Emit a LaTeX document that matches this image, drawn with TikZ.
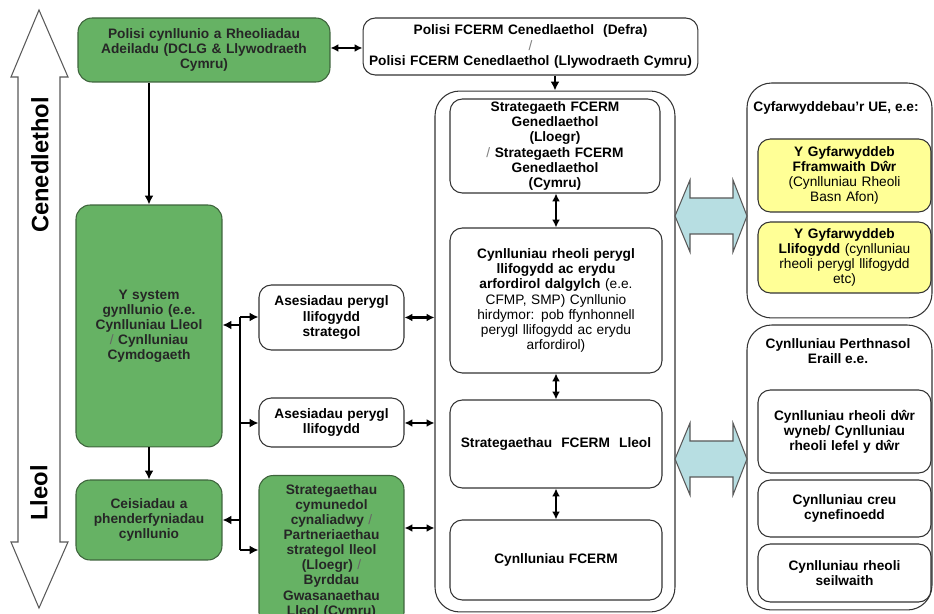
\documentclass[tikz,border=0pt]{standalone}
\usepackage{fontspec}
\setmainfont{Liberation Sans}
\usepackage{xcolor}
\usetikzlibrary{arrows.meta, positioning}

\definecolor{plangreen}{RGB}{102,178,100}
\definecolor{planedge}{RGB}{62,100,60}
\definecolor{euyellow}{RGB}{255,255,150}
\definecolor{linkcyan}{RGB}{183,222,226}

\tikzset{
  txt/.style={font=\fontsize{7.8}{8.6}\selectfont\bfseries, align=center, inner sep=1pt},
  greenbox/.style={txt, draw=planedge, fill=plangreen, text=black!85, rounded corners=8pt, line width=0.6pt},
  whitebox/.style={txt, draw=black!80, fill=white, rounded corners=7pt, line width=0.6pt},
  yellowbox/.style={txt, draw=black!80, fill=euyellow, rounded corners=7pt, line width=0.6pt},
  holder/.style={draw=black!80, rounded corners=14pt, line width=0.6pt},
  flow/.style={-{Latex[length=5pt,width=5pt]}, line width=1.3pt},
  link/.style={{Latex[length=4.5pt,width=4.5pt]}-{Latex[length=4.5pt,width=4.5pt]}, line width=1.3pt},
  levelword/.style={rotate=90, font=\fontsize{13.5}{14}\selectfont\bfseries},
}

\begin{document}
\begin{tikzpicture}[x=0.02cm, y=-0.02cm]
    \useasboundingbox (0,0) rectangle (934,614);
    \clip (0,0) rectangle (934,614);

    % national / local scale arrow
    \draw[gray!70!black, line width=0.6pt, fill=white]
        (39,10) -- (68,77) -- (60,77) -- (60,542) -- (68,542) -- (39,608) --
        (11,542) -- (18,542) -- (18,77) -- (11,77) -- cycle;
    \node[levelword] (natl) at (40,165) {Cenedlethol};
    \node[levelword] (local) at (39,493) {Lleol};

    % containers
    \node[holder, minimum width=4.8cm, minimum height=10.42cm] (fcermcont) at (555,351.5) {};
    \node[holder, minimum width=3.7cm, minimum height=4.7cm] (eucont) at (839.5,200.5) {};
    \node[holder, minimum width=3.7cm, minimum height=5.7cm] (othercont) at (839.5,467.5) {};

    % block arrows between containers
    \foreach \c in {216, 459} {
        \draw[gray!70!black, fill=linkcyan, line width=0.6pt]
            (675,\c) -- (690,{\c-36}) -- (690,{\c-18}) -- (733,{\c-18}) -- (733,{\c-36}) --
            (747,\c) -- (733,{\c+36}) -- (733,{\c+18}) -- (690,{\c+18}) -- (690,{\c+36}) -- cycle;
    }

    % national policy
    \node[greenbox, minimum width=5.04cm, minimum height=1.28cm, text width=4.8cm] (polcyn) at (204,50)
        {Polisi cynllunio a Rheoliadau\\Adeiladu (DCLG \& Llywodraeth\\Cymru)};
    \node[whitebox, minimum width=6.7cm, minimum height=1.14cm, text width=6.5cm] (polfcerm) at (530.5,46.5)
        {Polisi FCERM Cenedlaethol\ \ (Defra)\\{\mdseries\color{gray}/}\\Polisi FCERM Cenedlaethol (Llywodraeth Cymru)};

    % FCERM column
    \node[whitebox, minimum width=4.2cm, minimum height=1.88cm, text width=4cm] (strat) at (555,146)
        {Strategaeth FCERM\\Genedlaethol\\(Lloegr)\\{\mdseries\color{gray}/} Strategaeth FCERM\\Genedlaethol\\(Cymru)};
    \node[whitebox, minimum width=4.24cm, minimum height=2.9cm, text width=4cm] (cfmp) at (556,300.5)
        {Cynlluniau rheoli perygl\\llifogydd ac erydu\\arfordirol dalgylch {\mdseries (e.e.}\\
         \mdseries CFMP, SMP) Cynllunio\\hirdymor: pob ffynhonnell\\perygl llifogydd ac erydu\\arfordirol)};
    \node[whitebox, minimum width=4.24cm, minimum height=1.76cm, text width=4cm] (lleol) at (556,444)
        {Strategaethau\ \ FCERM\ \ Lleol};
    \node[whitebox, minimum width=4.24cm, minimum height=1.6cm, text width=4cm] (cynfcerm) at (556,560)
        {Cynlluniau FCERM};

    % EU directives
    \node[txt] (eutitle) at (836,108) {Cyfarwyddebau'r UE, e.e:};
    \node[yellowbox, minimum width=3.46cm, minimum height=1.46cm, text width=3.3cm] (wfd) at (844.5,175.5)
        {Y Gyfarwyddeb\\Fframwaith Dŵr\\\mdseries(Cynlluniau Rheoli\\Basn Afon)};
    \node[yellowbox, minimum width=3.46cm, minimum height=1.42cm, text width=3.3cm] (floodd) at (844.5,257.5)
        {Y Gyfarwyddeb\\Llifogydd {\mdseries (cynlluniau}\\\mdseries rheoli perygl llifogydd\\etc)};

    % other plans
    \node[txt] (othertitle) at (838,351) {Cynlluniau Perthnasol\\Eraill e.e.};
    \node[whitebox, minimum width=3.46cm, minimum height=1.66cm, text width=3.3cm] (surface) at (844.5,431.5)
        {Cynlluniau rheoli dŵr\\wyneb/ Cynlluniau\\rheoli lefel y dŵr};
    \node[whitebox, minimum width=3.46cm, minimum height=1.14cm, text width=3.3cm] (habitat) at (844.5,508.5)
        {Cynlluniau creu\\cynefinoedd};
    \node[whitebox, minimum width=3.46cm, minimum height=1.16cm, text width=3.3cm] (infra) at (844.5,573)
        {Cynlluniau rheoli\\seilwaith};

    % planning column
    \node[greenbox, minimum width=2.92cm, minimum height=4.84cm, text width=2.8cm] (system) at (149,326)
        {Y system\\gynllunio (e.e.\\Cynlluniau Lleol\\{\mdseries\color{black!60}/} Cynlluniau\\Cymdogaeth};
    \node[greenbox, minimum width=2.92cm, minimum height=1.6cm, text width=2.8cm] (ceis) at (149,520)
        {Ceisiadau a\\phenderfyniadau\\cynllunio};

    % assessments
    \node[whitebox, minimum width=2.9cm, minimum height=1.3cm, text width=2.8cm] (ases1) at (331.5,317.5)
        {Asesiadau perygl\\llifogydd\\strategol};
    \node[whitebox, minimum width=2.9cm, minimum height=0.98cm, text width=2.8cm] (ases2) at (331.5,422.5)
        {Asesiadau perygl\\llifogydd};
    \node[greenbox, anchor=north, minimum width=2.9cm, text width=2.8cm, inner ysep=5pt] (cymuned) at (331.5,475)
        {Strategaethau\\cymunedol\\cynaliadwy {\mdseries\color{black!60}/}\\Partneriaethau\\strategol lleol\\(Lloegr) {\mdseries\color{black!60}/}\\Byrddau\\Gwasanaethau\\Lleol (Cymru)};

    % bus between planning and assessments
    \coordinate (b1) at (240,317);
    \coordinate (b2) at (240,325);
    \coordinate (b3) at (240,423);
    \coordinate (b4) at (240,520);
    \coordinate (b5) at (240,550);
    \draw[line width=1.3pt] (b1) -- (b5);
    \draw[flow] (b1) -- (b1 -| ases1.west);
    \draw[flow] (b2) -- (b2 -| system.east);
    \draw[flow] (b3) -- (b3 -| ases2.west);
    \draw[flow] (b4) -- (b4 -| ceis.east);
    \draw[flow] (b5) -- (b5 -| cymuned.west);

    % connectors
    \draw[flow] (polcyn.south -| system.north) -- (system.north);
    \draw[flow] (system.south) -- (ceis.north);
    \draw[link] (polcyn.east |- 0,48) -- (polfcerm.west |- 0,48);
    \draw[flow] (polfcerm.south -| fcermcont.north) -- (fcermcont.north);
    \draw[link] (strat.south -| cfmp.north) -- (cfmp.north);
    \draw[link] (cfmp.south) -- (lleol.north);
    \draw[link] (lleol.south) -- (cynfcerm.north);
    \draw[link] (ases1.east) -- (ases1.east -| fcermcont.west);
    \draw[link] (ases2.east |- b3) -- (b3 -| fcermcont.west);
    \draw[link] (cymuned.east |- 0,528) -- (fcermcont.west |- 0,528);
\end{tikzpicture}
\end{document}
